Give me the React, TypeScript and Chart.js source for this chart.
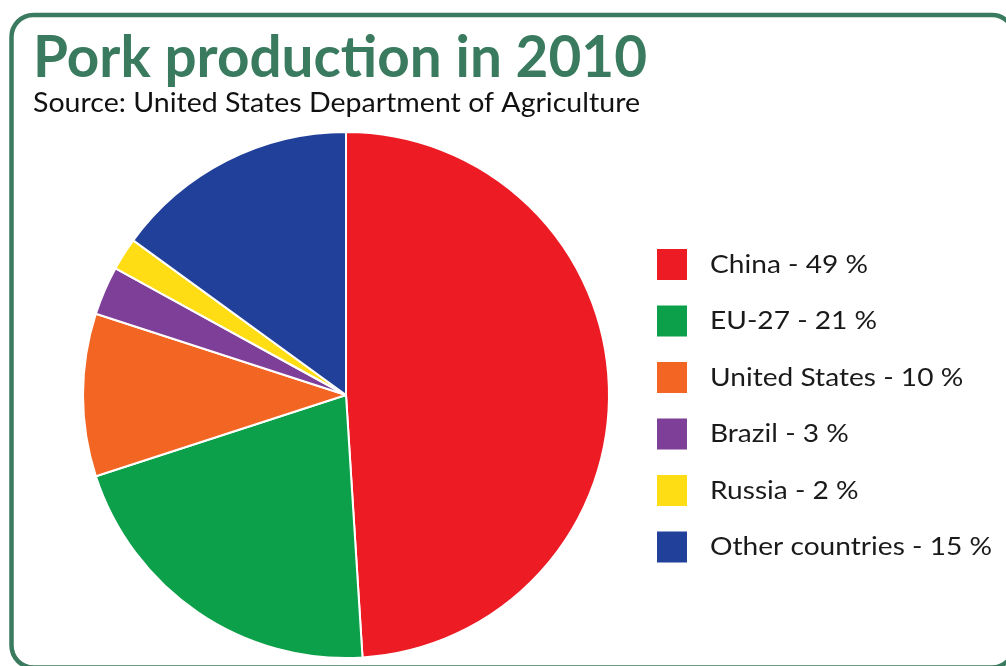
import React, { useEffect, useRef } from "react";
import { Chart, registerables } from "chart.js";

Chart.register(...registerables);

const title = "Pork production in 2010";
const subtitle = "Source: United States Department of Agriculture";
const countries = ["China", "EU-27", "United States", "Brazil", "Russia", "Other countries"];
const shares = [49, 21, 10, 3, 2, 15];
const colors = ["#ED1C24", "#0DA04A", "#F26522", "#7E3F98", "#FFDD15", "#21409A"];

const GREEN = "#3a7a5e";

function fitText(ctx: CanvasRenderingContext2D, text: string, x: number, y: number, targetW: number) {
  const w = ctx.measureText(text).width;
  const s = targetW / w;
  ctx.save();
  ctx.translate(x, y);
  ctx.scale(s, 1);
  ctx.fillText(text, 0, 0);
  ctx.restore();
}

const decorPlugin = {
  id: "decor",
  beforeDraw(chart: any) {
    const ctx: CanvasRenderingContext2D = chart.ctx;
    ctx.save();
    ctx.fillStyle = "#ffffff";
    ctx.fillRect(0, 0, chart.width, chart.height);
    ctx.strokeStyle = GREEN;
    ctx.lineWidth = 4.5;
    ctx.beginPath();
    (ctx as any).roundRect(11.5, 15, 1002.5, 652.5, 22);
    ctx.stroke();
    ctx.restore();
  },
  afterDraw(chart: any) {
    const ctx: CanvasRenderingContext2D = chart.ctx;
    ctx.save();
    ctx.textBaseline = "alphabetic";
    ctx.textAlign = "left";
    // Title
    ctx.fillStyle = GREEN;
    ctx.font = "bold 57px Lato";
    fitText(ctx, title, 33, 77, 614);
    // Subtitle
    ctx.fillStyle = "#111111";
    ctx.font = "26px Lato";
    fitText(ctx, subtitle, 33, 112, 607);
    // Legend
    const labels: string[] = chart.data.labels;
    const data: number[] = chart.data.datasets[0].data;
    const bg: string[] = chart.data.datasets[0].backgroundColor;
    ctx.font = "25px Lato";
    const texts = labels.map((l, i) => `${l} - ${data[i]} %`);
    const longest = texts[texts.length - 1];
    const scale = 282 / ctx.measureText(longest).width;
    texts.forEach((t, i) => {
      const top = 249 + i * 56.5;
      ctx.fillStyle = bg[i];
      ctx.fillRect(657, top, 30, 31);
      ctx.fillStyle = "#1a1a1a";
      ctx.save();
      ctx.translate(710, 273 + i * 56.4);
      ctx.scale(scale, 1);
      ctx.fillText(t, 0, 0);
      ctx.restore();
    });
    ctx.restore();
  },
};

export default function App() {
  const ref = useRef<HTMLCanvasElement | null>(null);
  useEffect(() => {
    if (!ref.current) return;
    const chart = new Chart(ref.current, {
      type: "pie",
      data: {
        labels: countries,
        datasets: [
          {
            data: shares,
            backgroundColor: colors,
            borderColor: "#ffffff",
            borderWidth: 2,
          },
        ],
      },
      options: {
        responsive: false,
        animation: false,
        layout: { padding: { left: 82, right: 396, top: 131, bottom: 7 } },
        plugins: {
          legend: { display: false },
          tooltip: { enabled: false },
          title: { display: false },
        },
      },
      plugins: [decorPlugin],
    });
    return () => chart.destroy();
  }, []);
  return (
    <div style={{ position: "fixed", left: 0, top: 0, width: 1006, height: 666, background: "#fff" }}>
      <canvas ref={ref} width={1006} height={666} style={{ display: "block" }} />
    </div>
  );
}
